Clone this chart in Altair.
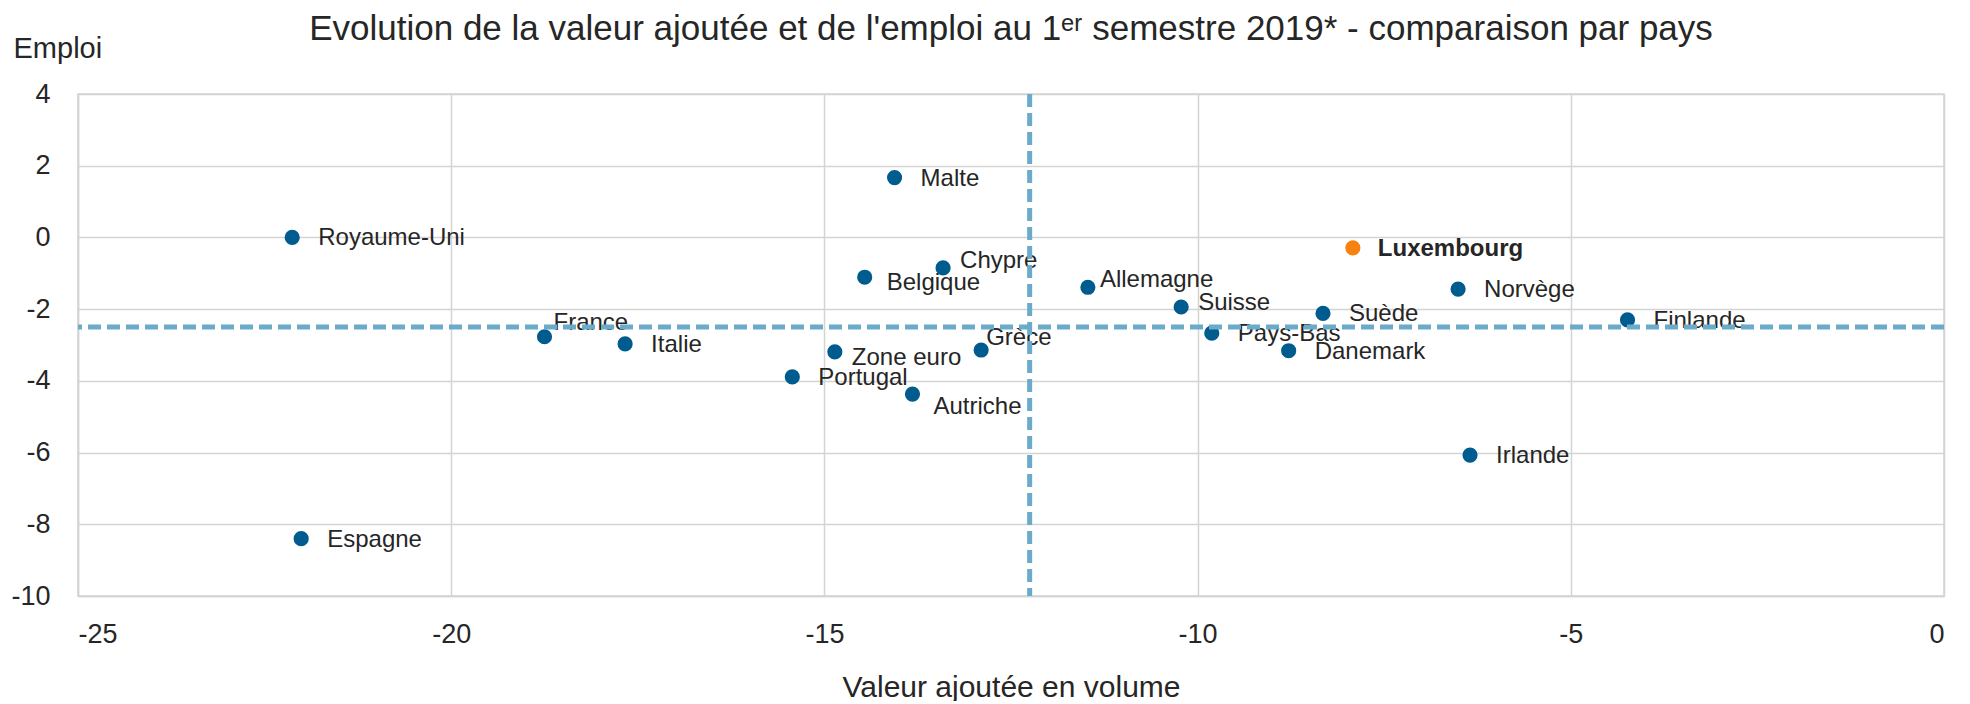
import altair as alt
import pandas as pd

# ---- data -------------------------------------------------------------
pays = ["Royaume-Uni", "Espagne", "France", "Italie", "Malte", "Belgique",
        "Chypre", "Zone euro", "Portugal", "Autriche", "Grèce", "Allemagne",
        "Suisse", "Pays-Bas", "Suède", "Danemark", "Luxembourg", "Norvège",
        "Irlande", "Finlande"]
valeur_ajoutee = [-22.13, -22.01, -18.75, -17.67, -14.06, -14.46,
                  -13.41, -14.86, -15.43, -13.82, -12.90, -11.47,
                  -10.22, -9.81, -8.32, -8.78, -7.92, -6.51,
                  -6.35, -4.24]
emploi = [0.0, -8.40, -2.77, -2.97, 1.67, -1.11,
          -0.85, -3.19, -3.89, -4.37, -3.14, -1.39,
          -1.94, -2.67, -2.12, -3.16, -0.29, -1.44,
          -6.07, -2.30]
ref_valeur_ajoutee = [-12.25]
ref_emploi = [-2.5]
pays_mis_en_avant = ["Luxembourg"]
x_ticks = [-25, -20, -15, -10, -5, 0]
y_ticks = [-10, -8, -6, -4, -2, 0, 2, 4]

titre = "Evolution de la valeur ajoutée et de l'emploi au 1ᵉʳ semestre 2019* - comparaison par pays"
titre_x = "Valeur ajoutée en volume"
titre_y = "Emploi"

# ---- style ------------------------------------------------------------
FONT = "Liberation Sans"
TXT = "#262626"
GRID = "#d4d4d4"
BLUE = "#005b8e"
ORANGE = "#f7820f"
REF = "#6aaaca"

# label placement (pixel offsets from the dot)
default_offset = (26, 1)
label_offsets = {
    "France": (9, -14),
    "Grèce": (5, -12),
    "Chypre": (17, -7),
    "Allemagne": (12, -7),
    "Suisse": (17, -4),
    "Belgique": (22, 6),
    "Zone euro": (17, 6),
    "Autriche": (21, 13),
}

df = pd.DataFrame({"pays": pays, "va": valeur_ajoutee, "emploi": emploi})
df["mis_en_avant"] = df["pays"].isin(pays_mis_en_avant)

x_enc = alt.X(
    "va:Q",
    scale=alt.Scale(domain=[-25, 0], nice=False),
    axis=alt.Axis(values=x_ticks, title=titre_x, labelPadding=25,
                  labelExpr="toString(datum.value)",
                  titleY=100, titleBaseline="alphabetic", titleAnchor="middle"),
)
y_enc = alt.Y(
    "emploi:Q",
    scale=alt.Scale(domain=[-10, 4], nice=False),
    axis=alt.Axis(values=y_ticks, title=titre_y, labelPadding=28,
                  labelExpr="toString(datum.value)",
                  titleAngle=0, titleAlign="left", titleBaseline="alphabetic",
                  titleX=-65, titleY=-37, titleFontSize=29),
)

base = alt.Chart(df).encode(x=x_enc, y=y_enc)

points = base.mark_circle(size=230, opacity=1).encode(
    color=alt.Color("mis_en_avant:N",
                    scale=alt.Scale(domain=[False, True], range=[BLUE, ORANGE]),
                    legend=None)
)

layers = [points]

# grouped text layers by offset
groups = {}
for p in pays:
    if p in pays_mis_en_avant:
        continue
    off = label_offsets.get(p, default_offset)
    groups.setdefault(off, []).append(p)

for (dx, dy), names in groups.items():
    layers.append(
        base.mark_text(align="left", baseline="middle", dx=dx, dy=dy,
                       font=FONT, fontSize=24, color=TXT)
        .encode(text="pays:N")
        .transform_filter(alt.FieldOneOfPredicate(field="pays", oneOf=names))
    )

layers.append(
    base.mark_text(align="left", baseline="middle", dx=default_offset[0] - 1,
                   dy=default_offset[1], font=FONT, fontSize=24,
                   fontWeight="bold", color=TXT)
    .encode(text="pays:N")
    .transform_filter(alt.FieldOneOfPredicate(field="pays", oneOf=pays_mis_en_avant))
)

vrule = alt.Chart(pd.DataFrame({"va": ref_valeur_ajoutee})).mark_rule(
    color=REF, strokeWidth=5, strokeDash=[13, 6]
).encode(x=x_enc)
hrule = alt.Chart(pd.DataFrame({"emploi": ref_emploi})).mark_rule(
    color=REF, strokeWidth=5, strokeDash=[13, 6]
).encode(y=y_enc)

layers += [vrule, hrule]

chart = (
    alt.layer(*layers)
    .properties(
        width=1866,
        height=502,
        autosize=alt.AutoSizeParams(type="none"),
        padding={"left": 70, "top": 86, "right": 18, "bottom": 105},
        title=alt.TitleParams(text=titre, font=FONT, fontSize=35,
                              fontWeight="normal", color=TXT,
                              anchor="middle", frame="group",
                              baseline="alphabetic", offset=-41),
    )
    .configure_view(stroke=GRID, strokeWidth=1.5)
    .configure_axis(
        grid=True, gridColor=GRID, gridWidth=1.5,
        domainColor=GRID, domainWidth=1.5,
        ticks=False, tickSize=0,
        labelFont=FONT, labelFontSize=27, labelColor=TXT,
        titleFont=FONT, titleFontSize=30, titleFontWeight="normal",
        titleColor=TXT,
    )
)

chart.save("out.html", embed_options={"renderer": "svg", "actions": False})
